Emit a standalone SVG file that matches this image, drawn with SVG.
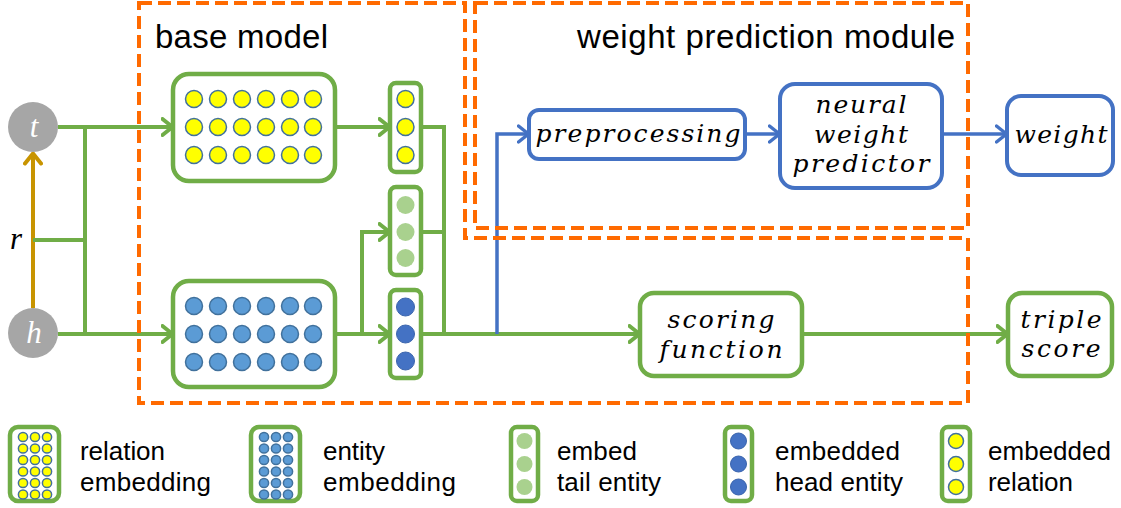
<svg xmlns="http://www.w3.org/2000/svg" width="1121" height="508" viewBox="0 0 1121 508">
<style>
.bg{fill:#ffffff}
.gbox{fill:#ffffff;stroke:#70ad47;stroke-width:4.5}
.bbox{fill:#ffffff;stroke:#4472c4;stroke-width:4}
.gline{fill:none;stroke:#70ad47;stroke-width:4}
.bline{fill:none;stroke:#4472c4;stroke-width:3.5}
.oline{fill:none;stroke:#c89400;stroke-width:4}
.dash{fill:none;stroke:#ff6a00;stroke-width:4;stroke-dasharray:13 6}
.yel{fill:#ffff00;stroke:#41719c;stroke-width:1.5}
.ent{fill:#5b9bd5;stroke:#41719c;stroke-width:1.5}
.tail{fill:#a9d18e}
.head{fill:#4472c4;stroke:#3a64ad;stroke-width:1}
.node{fill:#a6a6a6}
.title{font-family:"Liberation Sans",Arial,sans-serif;font-size:33px;fill:#000}
.leg{font-family:"Liberation Sans",Arial,sans-serif;font-size:26px;fill:#000}
.it{font-family:"DejaVu Serif","Liberation Serif",serif;font-style:italic;font-size:25px;fill:#000;text-anchor:middle}
.var{font-family:"Liberation Serif","DejaVu Serif",serif;font-style:italic;font-size:31px;text-anchor:middle}
</style>
<defs>
<marker id="ag" viewBox="0 0 14 20" refX="12.5" refY="10" markerWidth="14" markerHeight="20" markerUnits="userSpaceOnUse" orient="auto">
<path d="M2,2 L12,10 L2,18" fill="none" stroke="#70ad47" stroke-width="4" stroke-linecap="round" stroke-linejoin="round"/>
</marker>
<marker id="ab" viewBox="0 0 14 20" refX="12.5" refY="10" markerWidth="14" markerHeight="20" markerUnits="userSpaceOnUse" orient="auto">
<path d="M2,2 L12,10 L2,18" fill="none" stroke="#4472c4" stroke-width="3.5" stroke-linecap="round" stroke-linejoin="round"/>
</marker>
<marker id="ao" viewBox="0 0 14 20" refX="12.5" refY="10" markerWidth="14" markerHeight="20" markerUnits="userSpaceOnUse" orient="auto">
<path d="M2,2 L12,10 L2,18" fill="none" stroke="#c89400" stroke-width="4" stroke-linecap="round" stroke-linejoin="round"/>
</marker>
</defs>
<rect class="bg" x="0" y="0" width="1121" height="508"/>

<g id="connectors">
<path class="oline" d="M33,308 V153" marker-end="url(#ao)"/>
<path class="gline" d="M58,127 H173" marker-end="url(#ag)"/>
<path class="gline" d="M85,127 V334"/>
<path class="gline" d="M33,240 H85"/>
<path class="gline" d="M58,334 H173" marker-end="url(#ag)"/>
<path class="gline" d="M335,127 H390" marker-end="url(#ag)"/>
<path class="gline" d="M335,334 H390" marker-end="url(#ag)"/>
<path class="gline" d="M362,334 V232 H390" marker-end="url(#ag)"/>
<path class="gline" d="M421,127 H444 V334"/>
<path class="gline" d="M421,232 H444"/>
<path class="gline" d="M421,334 H640" marker-end="url(#ag)"/>
<path class="gline" d="M802,334 H1008" marker-end="url(#ag)"/>
<path class="bline" d="M497,334 V134 H529" marker-end="url(#ab)"/>
<path class="bline" d="M745,134 H780" marker-end="url(#ab)"/>
<path class="bline" d="M942,134 H1007" marker-end="url(#ab)"/>
</g>

<g id="t">
<circle class="node" cx="33" cy="127" r="25"/>
<text class="var" x="34" y="137" fill="#ffffff">t</text>
</g>
<g id="h">
<circle class="node" cx="33" cy="333" r="25"/>
<text class="var" x="34" y="343" fill="#ffffff">h</text>
</g>
<g id="r">
<text class="var" x="16" y="249" fill="#000000">r</text>
</g>

<g id="relation-embedding">
<rect class="gbox" x="173" y="74" width="162" height="107" rx="16"/>
<g class="yel">
<circle cx="194" cy="99" r="8.5"/><circle cx="218" cy="99" r="8.5"/><circle cx="242" cy="99" r="8.5"/><circle cx="266" cy="99" r="8.5"/><circle cx="290" cy="99" r="8.5"/><circle cx="313" cy="99" r="8.5"/>
<circle cx="194" cy="127" r="8.5"/><circle cx="218" cy="127" r="8.5"/><circle cx="242" cy="127" r="8.5"/><circle cx="266" cy="127" r="8.5"/><circle cx="290" cy="127" r="8.5"/><circle cx="313" cy="127" r="8.5"/>
<circle cx="194" cy="155" r="8.5"/><circle cx="218" cy="155" r="8.5"/><circle cx="242" cy="155" r="8.5"/><circle cx="266" cy="155" r="8.5"/><circle cx="290" cy="155" r="8.5"/><circle cx="313" cy="155" r="8.5"/>
</g>
</g>

<g id="entity-embedding">
<rect class="gbox" x="173" y="281" width="162" height="106" rx="16"/>
<g class="ent">
<circle cx="194" cy="306" r="8.5"/><circle cx="218" cy="306" r="8.5"/><circle cx="242" cy="306" r="8.5"/><circle cx="266" cy="306" r="8.5"/><circle cx="290" cy="306" r="8.5"/><circle cx="313" cy="306" r="8.5"/>
<circle cx="194" cy="334" r="8.5"/><circle cx="218" cy="334" r="8.5"/><circle cx="242" cy="334" r="8.5"/><circle cx="266" cy="334" r="8.5"/><circle cx="290" cy="334" r="8.5"/><circle cx="313" cy="334" r="8.5"/>
<circle cx="194" cy="362" r="8.5"/><circle cx="218" cy="362" r="8.5"/><circle cx="242" cy="362" r="8.5"/><circle cx="266" cy="362" r="8.5"/><circle cx="290" cy="362" r="8.5"/><circle cx="313" cy="362" r="8.5"/>
</g>
</g>

<g id="embedded-relation">
<rect class="gbox" x="390" y="83" width="31" height="89" rx="6"/>
<circle class="yel" cx="405.5" cy="99" r="8.5"/><circle class="yel" cx="405.5" cy="127" r="8.5"/><circle class="yel" cx="405.5" cy="155" r="8.5"/>
</g>
<g id="embedded-tail">
<rect class="gbox" x="390" y="187" width="31" height="88" rx="6"/>
<circle class="tail" cx="405.5" cy="205" r="9"/><circle class="tail" cx="405.5" cy="232" r="9"/><circle class="tail" cx="405.5" cy="258" r="9"/>
</g>
<g id="embedded-head">
<rect class="gbox" x="390" y="290" width="31" height="88" rx="6"/>
<circle class="head" cx="405.5" cy="307" r="9"/><circle class="head" cx="405.5" cy="334" r="9"/><circle class="head" cx="405.5" cy="361" r="9"/>
</g>

<g id="preprocessing">
<rect class="bbox" x="529" y="110" width="216" height="49" rx="10"/>
<text class="it" x="638" y="142" textLength="205" lengthAdjust="spacing">preprocessing</text>
</g>
<g id="neural-weight-predictor">
<rect class="bbox" x="780" y="84" width="162" height="104" rx="15"/>
<text class="it" x="861" y="113" textLength="91" lengthAdjust="spacing">neural</text>
<text class="it" x="861" y="143" textLength="94" lengthAdjust="spacing">weight</text>
<text class="it" x="861" y="172" textLength="137" lengthAdjust="spacing">predictor</text>
</g>
<g id="weight">
<rect class="bbox" x="1007" y="96" width="106" height="79" rx="14"/>
<text class="it" x="1061" y="143" textLength="93" lengthAdjust="spacing">weight</text>
</g>
<g id="scoring-function">
<rect class="gbox" x="640" y="293" width="162" height="83" rx="14"/>
<text class="it" x="721" y="328" textLength="107" lengthAdjust="spacing">scoring</text>
<text class="it" x="721" y="358" textLength="123" lengthAdjust="spacing">function</text>
</g>
<g id="triple-score">
<rect class="gbox" x="1008" y="293" width="104" height="83" rx="14"/>
<text class="it" x="1061" y="328" textLength="81" lengthAdjust="spacing">triple</text>
<text class="it" x="1061" y="357" textLength="79" lengthAdjust="spacing">score</text>
</g>

<g id="base-model">
<path class="dash" d="M139,3 H465 V238 H968 V403 H139 Z"/>
<text class="title" x="155" y="48" textLength="173" lengthAdjust="spacing">base model</text>
</g>
<g id="weight-prediction-module">
<rect class="dash" x="475" y="3" width="493" height="225"/>
<text class="title" x="577" y="48" textLength="378" lengthAdjust="spacing">weight prediction module</text>
</g>

<g id="legend">
<g id="legend-relation-embedding">
<rect class="gbox" x="10" y="427" width="49" height="74" rx="8"/>
<g class="yel">
<circle cx="23" cy="437" r="4.6"/><circle cx="35" cy="437" r="4.6"/><circle cx="47" cy="437" r="4.6"/>
<circle cx="23" cy="448.5" r="4.6"/><circle cx="35" cy="448.5" r="4.6"/><circle cx="47" cy="448.5" r="4.6"/>
<circle cx="23" cy="460" r="4.6"/><circle cx="35" cy="460" r="4.6"/><circle cx="47" cy="460" r="4.6"/>
<circle cx="23" cy="471.5" r="4.6"/><circle cx="35" cy="471.5" r="4.6"/><circle cx="47" cy="471.5" r="4.6"/>
<circle cx="23" cy="483" r="4.6"/><circle cx="35" cy="483" r="4.6"/><circle cx="47" cy="483" r="4.6"/>
<circle cx="23" cy="494.5" r="4.6"/><circle cx="35" cy="494.5" r="4.6"/><circle cx="47" cy="494.5" r="4.6"/>
</g>
<text class="leg" x="80" y="460" textLength="85" lengthAdjust="spacing">relation</text>
<text class="leg" x="80" y="491" textLength="131" lengthAdjust="spacing">embedding</text>
</g>
<g id="legend-entity-embedding">
<rect class="gbox" x="251" y="427" width="49" height="74" rx="8"/>
<g class="ent">
<circle cx="264" cy="437" r="4.6"/><circle cx="276" cy="437" r="4.6"/><circle cx="288" cy="437" r="4.6"/>
<circle cx="264" cy="448.5" r="4.6"/><circle cx="276" cy="448.5" r="4.6"/><circle cx="288" cy="448.5" r="4.6"/>
<circle cx="264" cy="460" r="4.6"/><circle cx="276" cy="460" r="4.6"/><circle cx="288" cy="460" r="4.6"/>
<circle cx="264" cy="471.5" r="4.6"/><circle cx="276" cy="471.5" r="4.6"/><circle cx="288" cy="471.5" r="4.6"/>
<circle cx="264" cy="483" r="4.6"/><circle cx="276" cy="483" r="4.6"/><circle cx="288" cy="483" r="4.6"/>
<circle cx="264" cy="494.5" r="4.6"/><circle cx="276" cy="494.5" r="4.6"/><circle cx="288" cy="494.5" r="4.6"/>
</g>
<text class="leg" x="323" y="460" textLength="62" lengthAdjust="spacing">entity</text>
<text class="leg" x="323" y="491" textLength="133" lengthAdjust="spacing">embedding</text>
</g>
<g id="legend-tail">
<rect class="gbox" x="511" y="427" width="27" height="74" rx="6"/>
<circle class="tail" cx="524.5" cy="441" r="8"/><circle class="tail" cx="524.5" cy="464" r="8"/><circle class="tail" cx="524.5" cy="487" r="8"/>
<text class="leg" x="557" y="460" textLength="80" lengthAdjust="spacing">embed</text>
<text class="leg" x="557" y="491" textLength="104" lengthAdjust="spacing">tail entity</text>
</g>
<g id="legend-head">
<rect class="gbox" x="725" y="427" width="27" height="74" rx="6"/>
<circle class="head" cx="738.5" cy="441" r="8"/><circle class="head" cx="738.5" cy="464" r="8"/><circle class="head" cx="738.5" cy="487" r="8"/>
<text class="leg" x="775" y="460" textLength="125" lengthAdjust="spacing">embedded</text>
<text class="leg" x="775" y="491" textLength="128" lengthAdjust="spacing">head entity</text>
</g>
<g id="legend-relation">
<rect class="gbox" x="942" y="427" width="28" height="74" rx="6"/>
<circle class="yel" cx="956" cy="441" r="7.5"/><circle class="yel" cx="956" cy="464" r="7.5"/><circle class="yel" cx="956" cy="487" r="7.5"/>
<text class="leg" x="988" y="460" textLength="123" lengthAdjust="spacing">embedded</text>
<text class="leg" x="988" y="491" textLength="85" lengthAdjust="spacing">relation</text>
</g>
</g>
</svg>
